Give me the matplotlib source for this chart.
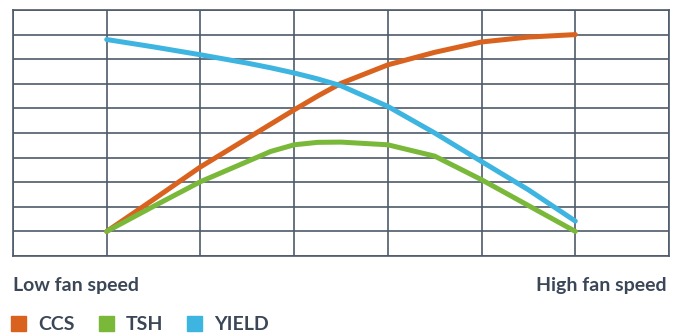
import matplotlib
matplotlib.use('Agg')
import matplotlib.pyplot as plt
from matplotlib.patches import Patch

# fan speed steps (grid columns) and series values
x = [1, 1.5, 2, 2.5, 2.75, 3, 3.25, 3.5, 4, 4.5, 5, 5.5, 6]
ccs = [1.0, 2.3, 3.62, 4.78, 5.36, 5.94, 6.5, 7.02, 7.77, 8.28, 8.7, 8.9, 9.0]
tsh = [1.0, 2.02, 3.02, 3.84, 4.25, 4.52, 4.62, 4.63, 4.52, 4.06, 3.1, 2.05, 1.0]
yld = [8.8, 8.5, 8.18, 7.84, 7.65, 7.44, 7.2, 6.92, 6.08, 5.0, 3.84, 2.69, 1.42]

names = ['CCS', 'TSH', 'YIELD']
colors = ['#d9621f', '#7ab83a', '#3db5e0']
txt_col = '#3b4757'

plt.rcParams['font.family'] = ['Lato', 'DejaVu Sans']

fig = plt.figure(figsize=(6.79, 3.34), dpi=100)
ax = fig.add_axes([13 / 679, 78 / 334, 656 / 679, 246 / 334])

for ys, c in zip([ccs, tsh, yld], colors):
    ax.plot(x, ys, color=c, lw=3.6, solid_capstyle='round', solid_joinstyle='round', zorder=3)

ax.set_xlim(0, 7)
ax.set_ylim(0, 10)
ax.set_xticks(range(8))
ax.set_yticks(range(11))
ax.grid(True, color='#4f5b6b', lw=1.2)
ax.tick_params(length=0, labelbottom=False, labelleft=False)
for s in ax.spines.values():
    s.set_color('#4f5b6b')
    s.set_linewidth(1.2)

fig.text(13 / 679, 1 - 291 / 334, 'Low fan speed', ha='left', va='baseline',
         fontsize=14, fontweight='bold', color=txt_col)
fig.text(667 / 679, 1 - 291 / 334, 'High fan speed', ha='right', va='baseline',
         fontsize=14, fontweight='bold', color=txt_col)

handles = [Patch(color=c, label=n) for n, c in zip(names, colors)]
leg = fig.legend(handles=handles, loc='lower left', bbox_to_anchor=(11 / 679, 1 / 334),
                 ncol=3, frameon=False, borderpad=0, borderaxespad=0,
                 handlelength=0.78, handleheight=0.82,
                 handletextpad=0.6, columnspacing=1.25,
                 prop={'weight': 'bold', 'size': 14})
for t in leg.get_texts():
    t.set_color(txt_col)

fig.savefig('out.png', dpi=100)
